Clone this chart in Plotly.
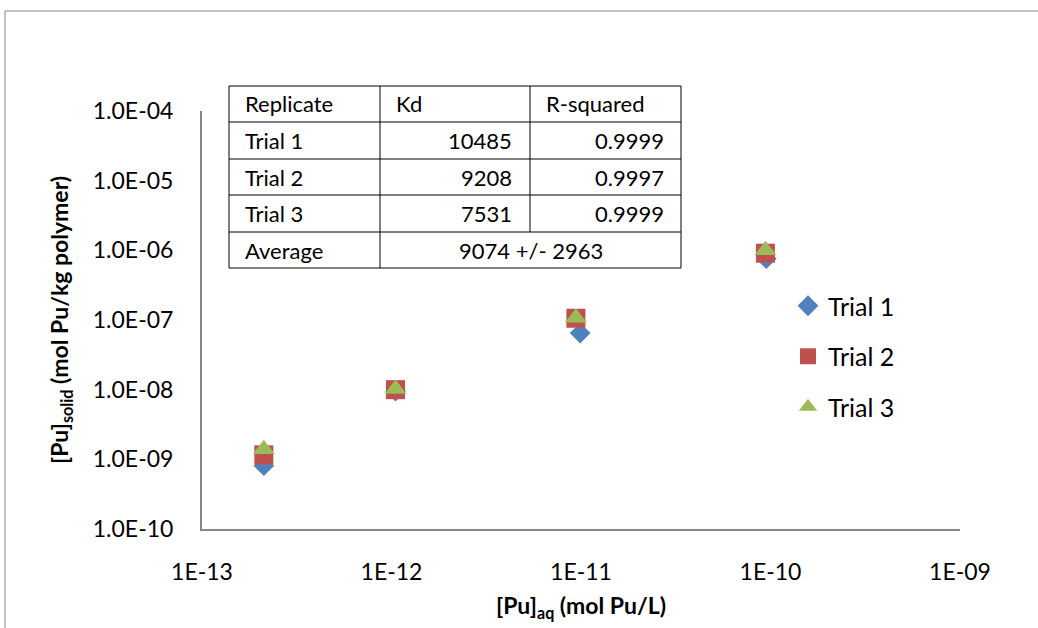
import plotly.graph_objects as go

# ---------------- data ----------------
trial_names = ["Trial 1", "Trial 2", "Trial 3"]
trial1_x = [2.12e-13, 1.05e-12, 9.9e-12, 9.5e-11]
trial1_y = [8.1e-10, 9.5e-9, 6.5e-8, 7.6e-7]
trial2_x = [2.12e-13, 1.05e-12, 9.4e-12, 9.4e-11]
trial2_y = [1.16e-9, 1.0e-8, 1.06e-7, 9.1e-7]
trial3_x = [2.12e-13, 1.05e-12, 9.4e-12, 9.4e-11]
trial3_y = [1.4e-9, 1.02e-8, 1.08e-7, 1.0e-6]

x_tickvals = [1e-13, 1e-12, 1e-11, 1e-10, 1e-9]
x_ticktext = ["1E-13", "1E-12", "1E-11", "1E-10", "1E-09"]
y_tickvals = [1e-10, 1e-9, 1e-8, 1e-7, 1e-6, 1e-5, 1e-4]
y_ticktext = ["1.0E-10", "1.0E-09", "1.0E-08", "1.0E-07", "1.0E-06", "1.0E-05", "1.0E-04"]

table_header = ["Replicate", "Kd", "R-squared"]
table_replicates = ["Trial 1", "Trial 2", "Trial 3"]
table_kd = ["10485", "9208", "7531"]
table_r2 = ["0.9999", "0.9997", "0.9999"]
table_avg_label = "Average"
table_avg_value = "9074 +/- 2963"

# ---------------- styling ----------------
FONT = "Lato"
W, H = 1038, 628
L, R, T, B = 202, 960, 111, 529  # plot area in pixels

def px(xp):
    return (xp - L) / (R - L)

def py(yp):
    return (B - yp) / (B - T)

colors = ["#4F81BD", "#C0504D", "#9BBB59"]
symbols = ["diamond", "square", "triangle-up"]
sizes = [16, 19, 19]

fig = go.Figure()
series = [(trial1_x, trial1_y), (trial2_x, trial2_y), (trial3_x, trial3_y)]
for i, (xs, ys) in enumerate(series):
    fig.add_trace(go.Scatter(
        x=xs, y=ys, mode="markers", name=trial_names[i],
        legendgroup=trial_names[i],
        marker=dict(symbol=symbols[i], size=sizes[i], color=colors[i],
                    line=dict(width=0)),
    ))

shapes = []
annotations = []

# outer chart border (extends past the window on right/bottom)
shapes.append(dict(type="rect", xref="paper", yref="paper",
                   x0=px(5), x1=px(1060), y0=py(650), y1=py(11),
                   line=dict(color="#868686", width=1), fillcolor="rgba(0,0,0,0)"))

# table grid
tx = [229, 380, 530, 681]
ty = [86, 122, 159, 195, 232, 268]
line_style = dict(color="black", width=1)
for yy in ty:
    shapes.append(dict(type="line", xref="paper", yref="paper",
                       x0=px(tx[0]), x1=px(tx[-1]), y0=py(yy), y1=py(yy), line=line_style))
for j, xx in enumerate(tx):
    ybot = ty[-1] if j in (0, 1, 3) else ty[-2]
    shapes.append(dict(type="line", xref="paper", yref="paper",
                       x0=px(xx), x1=px(xx), y0=py(ty[0]), y1=py(ybot), line=line_style))

tfont = dict(family=FONT, size=22, color="black")
def row_center(r):
    return (ty[r] + ty[r + 1]) / 2

# header
for j, h in enumerate(table_header):
    annotations.append(dict(text=h, xref="paper", yref="paper", x=px(tx[j] + 14), y=py(row_center(0)),
                            xanchor="left", yanchor="middle", showarrow=False, font=tfont))
for r in range(3):
    yc = py(row_center(r + 1))
    annotations.append(dict(text=table_replicates[r], xref="paper", yref="paper", x=px(tx[0] + 14), y=yc,
                            xanchor="left", yanchor="middle", showarrow=False, font=tfont))
    annotations.append(dict(text=table_kd[r], xref="paper", yref="paper", x=px(tx[2] - 16), y=yc,
                            xanchor="right", yanchor="middle", showarrow=False, font=tfont))
    annotations.append(dict(text=table_r2[r], xref="paper", yref="paper", x=px(tx[3] - 15), y=yc,
                            xanchor="right", yanchor="middle", showarrow=False, font=tfont))
yc = py(row_center(4))
annotations.append(dict(text=table_avg_label, xref="paper", yref="paper", x=px(tx[0] + 14), y=yc,
                        xanchor="left", yanchor="middle", showarrow=False, font=tfont))
annotations.append(dict(text=table_avg_value, xref="paper", yref="paper", x=px((tx[1] + tx[3]) / 2), y=yc,
                        xanchor="center", yanchor="middle", showarrow=False, font=tfont))

fig.update_layout(
    width=W, height=H,
    margin=dict(l=L, r=W - R, t=T, b=H - B, pad=0),
    paper_bgcolor="white", plot_bgcolor="white",
    font=dict(family=FONT, size=23, color="black"),
    showlegend=True,
    legend=dict(x=px(788), y=py(283), xanchor="left", yanchor="top",
                font=dict(family=FONT, size=25, color="black"),
                tracegroupgap=15, bgcolor="rgba(0,0,0,0)"),
    shapes=shapes, annotations=annotations,
)
fig.update_xaxes(
    type="log", range=[-13, -9], showgrid=False, zeroline=False,
    showline=True, linecolor="#868686", linewidth=2,
    tickvals=x_tickvals, ticktext=x_ticktext,
    ticks="outside", ticklen=21, tickcolor="rgba(0,0,0,0)",
    tickfont=dict(family=FONT, size=23, color="black"),
    title=dict(text="<b>[Pu]<sub>aq</sub> (mol Pu/L)</b>", standoff=14,
               font=dict(family=FONT, size=23, color="black")),
)
fig.update_yaxes(
    type="log", range=[-10, -4], showgrid=False, zeroline=False,
    showline=True, linecolor="#868686", linewidth=2,
    tickvals=y_tickvals, ticktext=y_ticktext,
    ticks="outside", ticklen=22, tickcolor="rgba(0,0,0,0)",
    tickfont=dict(family=FONT, size=23, color="black"),
    title=dict(text="<b>[Pu]<sub>solid</sub> (mol Pu/kg polymer)</b>", standoff=18,
               font=dict(family=FONT, size=23, color="black")),
)

fig.write_html("out.html")
